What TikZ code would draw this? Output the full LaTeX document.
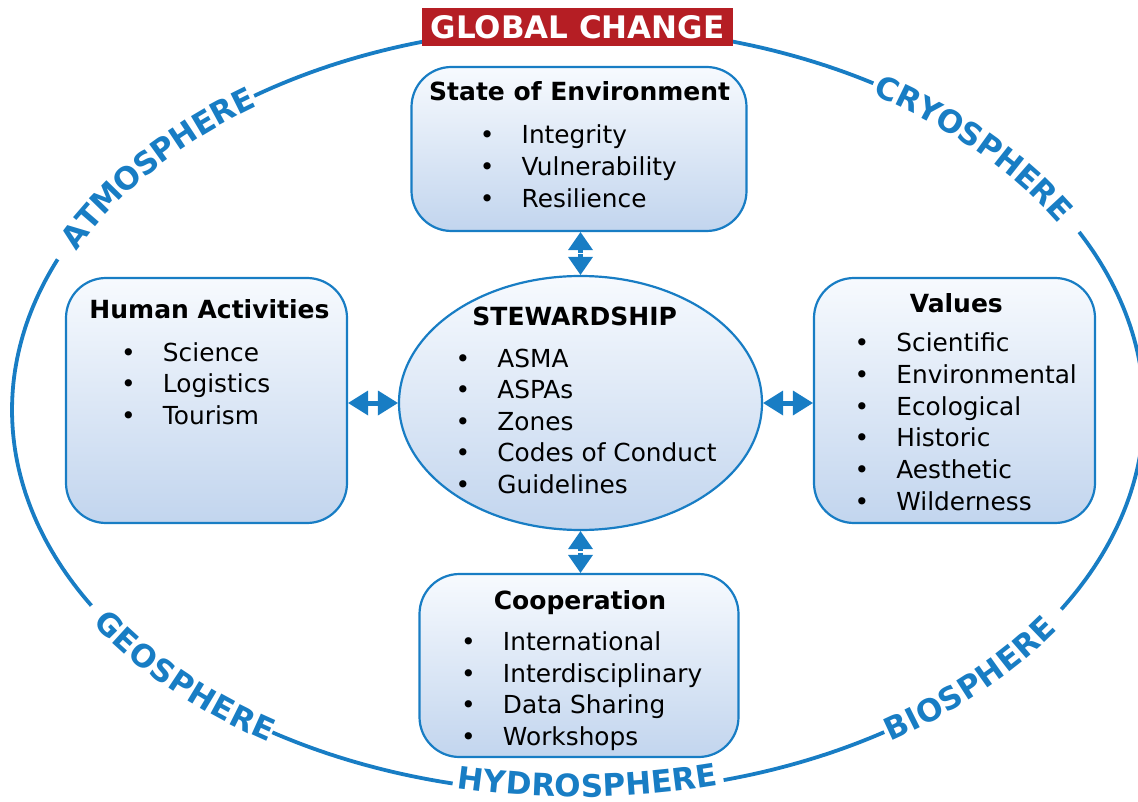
\documentclass[tikz,border=0pt]{standalone}
\usepackage{fontspec}
\setmainfont{DejaVu Sans}
\usetikzlibrary{shapes.geometric,arrows.meta,decorations.text,calc}
\definecolor{ringblue}{RGB}{24,125,196}
\definecolor{gcred}{RGB}{181,30,36}
\definecolor{boxtop}{RGB}{247,250,254}
\definecolor{boxbot}{RGB}{194,213,238}
\newcommand\ringfont{\bfseries\fontsize{31}{36}\selectfont}
\newcommand\blt{\makebox[41.8pt][l]{•}}
\tikzset{
  ringarc/.style 2 args={insert path={plot[domain=0:1,samples=60,variable=\t]
      ({578+566*cos(#1+(#2-#1)*\t)},{410+383*sin(#1+(#2-#1)*\t)})}},
  ringline/.style={draw=ringblue, line width=3.8pt},
  ringlabel/.style 2 args={decorate, decoration={text along path,
      text={|\ringfont|#1}, text color=ringblue, text align=center, raise=#2}},
  panel/.style={draw=ringblue, line width=2.2pt, rounded corners=40pt,
      top color=boxtop, bottom color=boxbot, inner sep=0pt},
  oval/.style={ellipse, draw=ringblue, line width=2.2pt,
      top color=boxtop, bottom color=boxbot, inner sep=0pt},
  title/.style={font=\bfseries\fontsize{25}{30}\selectfont, anchor=base, inner sep=0pt},
  itm/.style={font=\fontsize{24.8}{30}\selectfont, anchor=base west, inner sep=0pt},
  harrow/.style={color=ringblue, line width=5pt,
      {Triangle[width=25pt,length=20pt,line width=0pt]}-{Triangle[width=25pt,length=20pt,line width=0pt]}},
  varrow/.style={color=ringblue, line width=5pt, -{Triangle[width=25pt,length=18pt,line width=0pt]}},
}
\begin{document}
\begin{tikzpicture}[x=1pt,y=-1pt]
\useasboundingbox (0,0) rectangle (1138,802);

% outer ring
\draw[ringline, ringarc={332.3}{391.4}];
\draw[ringline, ringarc={57.25}{75.1}];
\draw[ringline, ringarc={102.8}{122.7}];
\draw[ringline, ringarc={149.3}{203.2}];
\draw[ringline, ringarc={235.1}{301.5}];

\path[ringlabel={ATMOSPHERE}{-11pt}, ringarc={195.2}{243.1}];
\path[ringlabel={CRYOSPHERE}{-11pt}, ringarc={293.5}{340.3}];
\path[ringlabel={GEOSPHERE}{-11pt}, ringarc={157.3}{114.7}];
\path[ringlabel={HYDROSPHERE}{-4pt}, ringarc={110.8}{67.1}];
\path[ringlabel={BIOSPHERE}{-11pt}, ringarc={65.25}{23.4}];

% banner
\node[fill=gcred, minimum width=311pt, minimum height=38pt, inner sep=0pt,
      text=white, font=\bfseries\fontsize{31}{36}\selectfont] (gc) at (577.5,27) {GLOBAL CHANGE};

% panels
\node[panel, minimum width=335pt, minimum height=164pt] (se) at (579,149) {};
\node[panel, minimum width=281pt, minimum height=245pt] (ha) at (206.5,400.5) {};
\node[panel, minimum width=281pt, minimum height=245pt] (va) at (954.5,400.5) {};
\node[panel, minimum width=319pt, minimum height=183pt] (co) at (579,665.5) {};
\node[oval, minimum width=363pt, minimum height=254pt] (st) at (580.5,403) {};

% titles
\node[title] (se-t) at (579.7,100.7) {State of Environment};
\node[title] (ha-t) at (209.5,318.3) {Human Activities};
\node[title] (va-t) at (956.3,313) {Values};
\node[title] (st-t) at (574.7,326) {STEWARDSHIP};
\node[title] (co-t) at (580,609.3) {Cooperation};

% lists
\foreach \s [count=\i] in {Integrity,Vulnerability,Resilience}
  \node[itm] (se-\i) at (479.7,{144+31.65*(\i-1)}) {\blt\s};
\foreach \s [count=\i] in {Science,Logistics,Tourism}
  \node[itm] (ha-\i) at (121,{361+31.5*(\i-1)}) {\blt\s};
\foreach \s [count=\i] in {Scientific,Environmental,Ecological,Historic,Aesthetic,Wilderness}
  \node[itm] (va-\i) at (854.4,{351.7+31.66*(\i-1)}) {\blt\s};
\foreach \s [count=\i] in {ASMA,ASPAs,Zones,Codes of Conduct,Guidelines}
  \node[itm] (st-\i) at (455.4,{367.3+31.5*(\i-1)}) {\blt\s};
\foreach \s [count=\i] in {International,Interdisciplinary,Data Sharing,Workshops}
  \node[itm] (co-\i) at (461,{650.7+31.45*(\i-1)}) {\blt\s};

% connectors
\draw[harrow] (st.west) -- (st.west -| ha.east);
\draw[harrow] (st.east) -- (st.east -| va.west);
\coordinate (m1) at ($(st.north)!0.5!(st.north |- se.south)$);
\draw[varrow] ([yshift=0.8pt]m1) -- (st.north |- se.south);
\draw[varrow] ([yshift=-0.8pt]m1) -- (st.north);
\coordinate (m2) at ($(st.south)!0.5!(st.south |- co.north)$);
\draw[varrow] ([yshift=0.8pt]m2) -- (st.south);
\draw[varrow] ([yshift=-0.8pt]m2) -- (st.south |- co.north);
\end{tikzpicture}
\end{document}
